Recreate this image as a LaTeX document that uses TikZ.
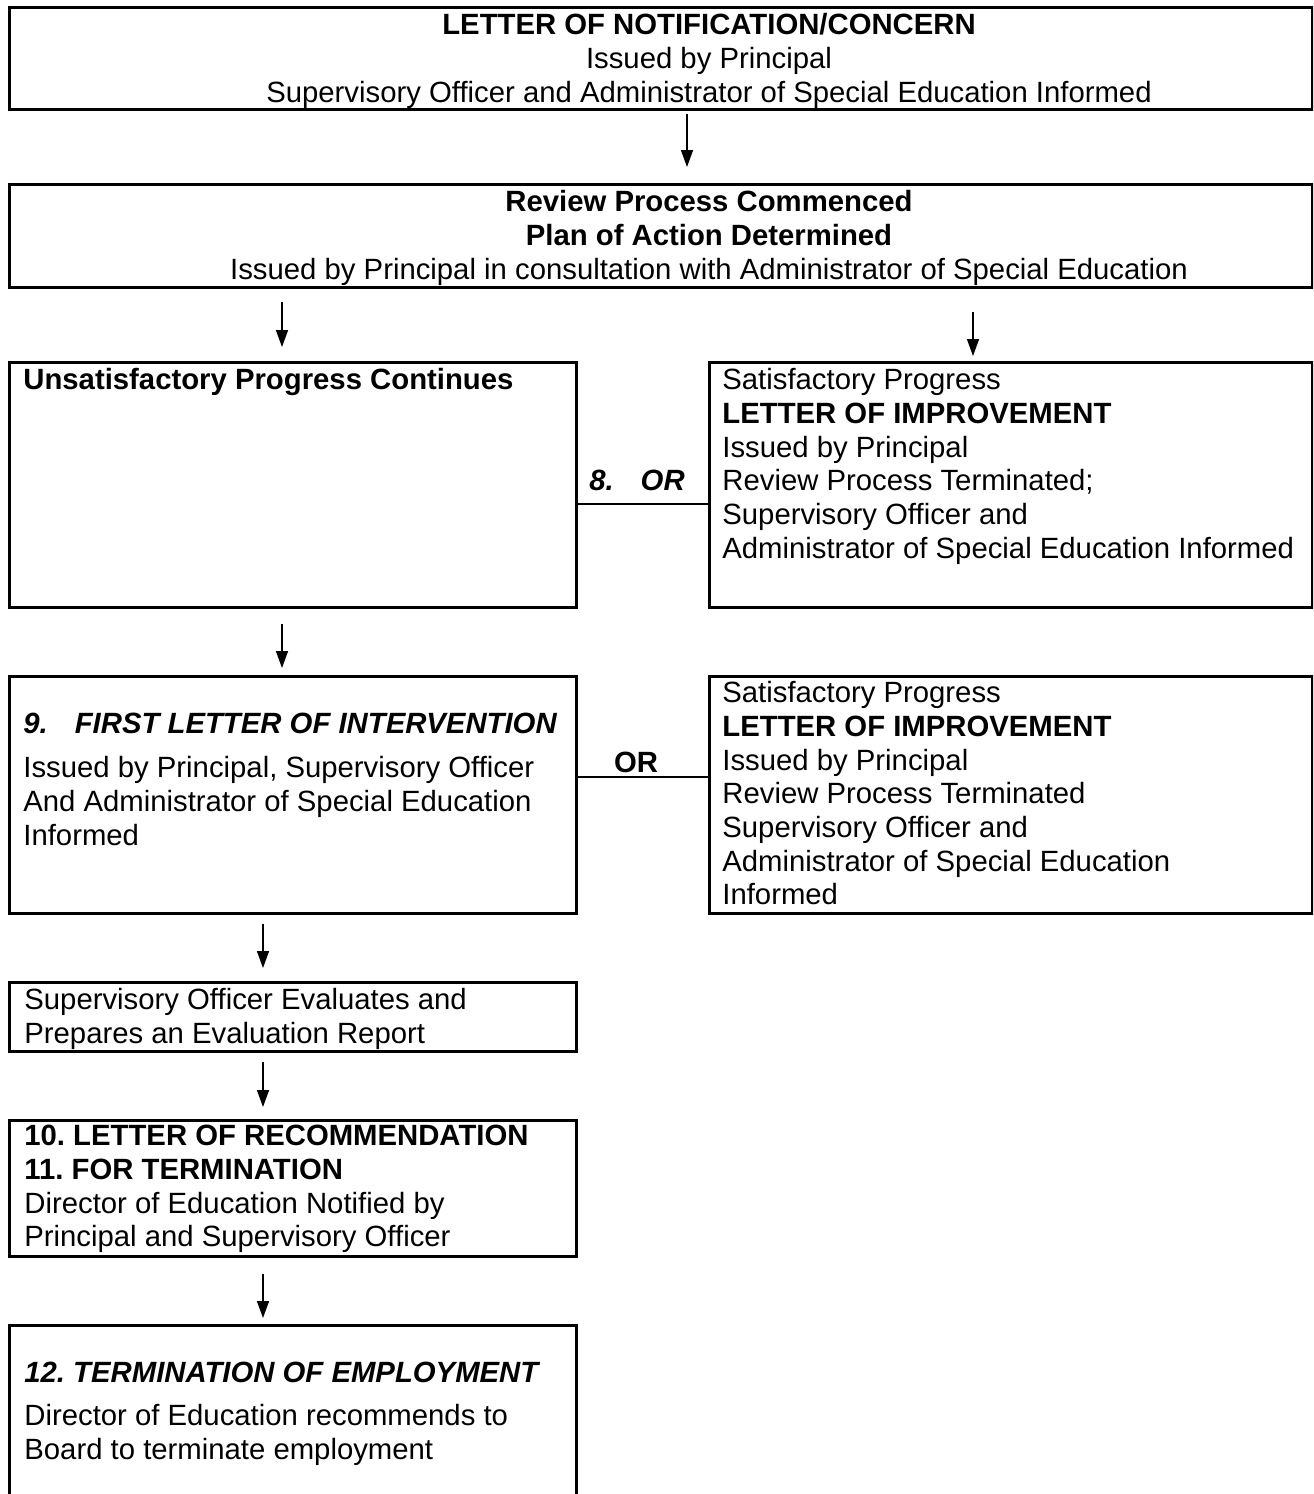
\documentclass[tikz,border=0pt]{standalone}
\usepackage{fontspec}
\setmainfont{Liberation Sans}
\usetikzlibrary{arrows.meta}
\frenchspacing
\newcommand{\fs}{\fontsize{14.65pt}{16.85pt}\selectfont\frenchspacing}
\tikzset{
  box/.style={draw, line width=1.25pt, anchor=north west, inner sep=0pt},
  txt/.style={inner sep=0pt, align=left, anchor=north west, font=\fs},
  ctxt/.style={inner sep=0pt, align=center, anchor=north, font=\fs},
  lbl/.style={inner sep=0pt, font=\fs\bfseries},
  arr/.style={line width=0.75pt, -{Triangle[length=8.5pt,width=6pt]}},
  link/.style={line width=1pt}
}
\begin{document}
\begin{tikzpicture}[x=0.5pt,y=-0.5pt]
\useasboundingbox (0,0) rectangle (1313,1494);
\clip (0,0) rectangle (1313,1494);
% boxes
\node[box, minimum width=651.5pt, minimum height=51pt] (b1) at (8,6) {};
\node[box, minimum width=651.5pt, minimum height=51.5pt] (b2) at (8,183) {};
\node[box, minimum width=283.5pt, minimum height=122.5pt] (b3l) at (8,361) {};
\node[box, minimum width=301.5pt, minimum height=122.5pt] (b3r) at (708,361) {};
\node[box, minimum width=283.5pt, minimum height=118.5pt] (b4l) at (8,675) {};
\node[box, minimum width=301.5pt, minimum height=118.5pt] (b4r) at (708,675) {};
\node[box, minimum width=283.5pt, minimum height=34.5pt] (b5) at (8,981) {};
\node[box, minimum width=283.5pt, minimum height=68pt] (b6) at (8,1119) {};
\node[box, minimum width=283.5pt, minimum height=100pt] (b7) at (8,1324) {};
% texts
\node[ctxt] (t1) at (709,13) {\textbf{LETTER OF NOTIFICATION/CONCERN}\\Issued by Principal\\Supervisory Officer and Administrator of Special Education Informed};
\node[ctxt] (t2) at (709,190) {\textbf{Review Process Commenced}\\\textbf{Plan of Action Determined}\\Issued by Principal in consultation with Administrator of Special Education};
\node[txt] (t3l) at (23,368) {\textbf{Unsatisfactory Progress Continues}};
\node[txt] (t3r) at (722,368) {Satisfactory Progress\\\textbf{LETTER OF IMPROVEMENT}\\Issued by Principal\\Review Process Terminated;\\Supervisory Officer and\\Administrator of Special Education Informed};
\node[txt] (t4h) at (23,713) {\textbf{\textit{9.\hspace{13.5pt}FIRST LETTER OF INTERVENTION}}};
\node[txt] (t4l) at (23,756) {Issued by Principal, Supervisory Officer\\And Administrator of Special Education\\Informed};
\node[txt] (t4r) at (722,681) {Satisfactory Progress\\\textbf{LETTER OF IMPROVEMENT}\\Issued by Principal\\Review Process Terminated\\Supervisory Officer and\\Administrator of Special Education\\Informed};
\node[txt] (t5) at (24,988) {Supervisory Officer Evaluates and\\Prepares an Evaluation Report};
\node[txt] (t6) at (24,1125) {\textbf{10. LETTER OF RECOMMENDATION}\\\textbf{11. FOR TERMINATION}\\Director of Education Notified by\\Principal and Supervisory Officer};
\node[txt] (t7h) at (24,1362) {\textbf{\textit{12. TERMINATION OF EMPLOYMENT}}};
\node[txt] (t7) at (24,1404) {Director of Education recommends to\\Board to terminate employment};
% arrows
\coordinate (xa) at (687,0);
\coordinate (xl) at (282,0);
\coordinate (xr) at (973,0);
\coordinate (xm) at (263,0);
\draw[arr, shorten <=1.5pt, shorten >=8pt] (b1.south -| xa) -- (b2.north -| xa);
\draw[arr, shorten <=6.5pt, shorten >=7pt] (b2.south -| xl) -- (b3l.north -| xl);
\draw[arr, shorten <=11.5pt, shorten >=2.5pt] (b2.south -| xr) -- (b3r.north -| xr);
\draw[arr, shorten <=7.5pt, shorten >=3.5pt] (b3l.south -| xl) -- (b4l.north -| xl);
\draw[arr, shorten <=4.5pt, shorten >=6.5pt] (b4l.south -| xm) -- (b5.north -| xm);
\draw[arr, shorten <=4.5pt, shorten >=6pt] (b5.south -| xm) -- (b6.north -| xm);
\draw[arr, shorten <=8pt, shorten >=3pt] (b6.south -| xm) -- (b7.north -| xm);
% OR links
\coordinate (o1) at (640,504);
\coordinate (o2) at (640,777);
\draw[link] (b3l.east |- o1) -- (b3r.west |- o1);
\draw[link] (b4l.east |- o2) -- (b4r.west |- o2);
\node[lbl] (l1) at (637,480) {\textit{8.\hspace{13.5pt}OR}};
\node[lbl] (l2) at (636,762) {OR};
\end{tikzpicture}
\end{document}
